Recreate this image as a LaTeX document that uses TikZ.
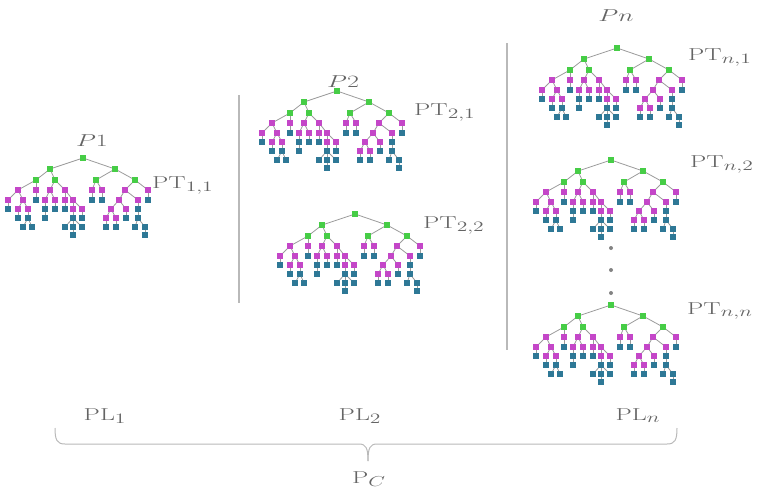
\documentclass[tikz,border=0pt]{standalone}
\usepackage{amsmath}
\usepackage{tikz}
\usepackage{xcolor}
\definecolor{TopGreen}{RGB}{70,205,70}
\definecolor{InnerMagenta}{RGB}{196,70,200}
\definecolor{LeafTeal}{RGB}{46,120,150}
\definecolor{EdgeGray}{RGB}{155,155,155}
\definecolor{LabelGray}{RGB}{100,100,100}
\definecolor{RuleGray}{RGB}{185,185,185}

\newcommand{\wlbl}[1]{\scalebox{1.5}[1]{#1}}

\tikzset{
  pnode/.style={rectangle, inner sep=0pt, minimum size=5.4pt},
  tedge/.style={draw=EdgeGray, line width=0.8pt},
  lbl/.style={text=LabelGray, inner sep=0pt, font=\fontsize{19}{22}\selectfont},
  ptree/.pic={
    \foreach \n/\x/\y/\c in {r/0/0/TopGreen, a/-33/11/TopGreen, b/32/11/TopGreen,
        aa/-47/22/TopGreen, ab/-28/22/TopGreen, ba/13/22/TopGreen, bb/52/22/TopGreen,
        c1/-65/32/InnerMagenta, c2/-47/32/InnerMagenta, c3/-33/32/InnerMagenta, c4/-18/32/InnerMagenta,
        c5/9/32/InnerMagenta, c6/19/32/InnerMagenta, c7/42/32/InnerMagenta, c8/65/32/InnerMagenta,
        d1/-75/42/InnerMagenta, d2/-60/42/InnerMagenta, d3/-47/42/LeafTeal, d4/-38/42/InnerMagenta,
        d5/-28/42/InnerMagenta, d6/-18/42/InnerMagenta, d7/-10/42/InnerMagenta, d8/9/42/LeafTeal,
        d9/19/42/LeafTeal, d10/36/42/InnerMagenta, d11/55/42/InnerMagenta, d12/65/42/LeafTeal,
        e1/-75/51/LeafTeal, e2/-65/51/InnerMagenta, e3/-55/51/InnerMagenta, e4/-38/51/LeafTeal,
        e5/-28/51/LeafTeal, e6/-18/51/LeafTeal, e7/-10/51/InnerMagenta, e8/-1/51/InnerMagenta,
        e9/28/51/InnerMagenta, e10/43/51/InnerMagenta, e11/55/51/LeafTeal,
        f1/-65/60/LeafTeal, f2/-55/60/LeafTeal, f3/-38/60/LeafTeal, f4/-10/60/LeafTeal,
        f5/-1/60/LeafTeal, f6/23/60/InnerMagenta, f7/33/60/InnerMagenta, f8/43/60/LeafTeal, f9/55/60/LeafTeal,
        g1/-60/69/LeafTeal, g2/-51/69/LeafTeal, g3/-18/69/LeafTeal, g4/-10/69/LeafTeal, g5/-1/69/LeafTeal,
        g6/23/69/LeafTeal, g7/33/69/LeafTeal, g8/52/69/LeafTeal, g9/62/69/LeafTeal,
        h1/-10/77/LeafTeal, h2/62/77/LeafTeal}
      \node[pnode, fill=\c] (-\n) at (\x,\y) {};
    \foreach \p/\q in {r/a, r/b, a/aa, a/ab, b/ba, b/bb, aa/c1, aa/c2, ab/c3, ab/c4, ba/c5, ba/c6,
        bb/c7, bb/c8, c1/d1, c1/d2, c2/d3, c3/d4, c3/d5, c4/d6, c4/d7, c5/d8, c6/d9, c7/d10, c7/d11,
        c8/d12, d1/e1, d2/e2, d2/e3, d4/e4, d5/e5, d6/e6, d7/e7, d7/e8, d10/e9, d10/e10, d11/e11,
        e2/f1, e3/f2, e4/f3, e7/f4, e8/f5, e9/f6, e9/f7, e10/f8, e11/f9, f2/g1, f2/g2, f4/g3, f4/g4,
        f4/g5, f6/g6, f7/g7, f9/g8, f9/g9, g4/h1, g9/h2}
      \draw[tedge] (-\p) -- (-\q);
  }
}

\begin{document}
\begin{tikzpicture}[x=1pt, y=-1pt]
  \useasboundingbox (0,0) rectangle (763,493);

  % party trees
  \pic (t11) at (83,158) {ptree};
  \pic (t21) at (337,91) {ptree};
  \pic (t22) at (355,214) {ptree};
  \pic (tn1) at (617,48) {ptree};
  \pic (tn2) at (611,160) {ptree};
  \pic (tnn) at (611,305) {ptree};

  % separators
  \draw[RuleGray, line width=1.1pt] (239,95) -- (239,303);
  \draw[RuleGray, line width=1.1pt] (507,43) -- (507,350);

  % vertical dots
  \foreach \yy in {248,270,293}
    \fill[LabelGray!80] (611,\yy) circle (2);

  % party names
  \node[lbl, anchor=base] (p1) at (92,146) {\wlbl{$P1$}};
  \node[lbl, anchor=base] (p2) at (343,87) {\wlbl{$P2$}};
  \node[lbl, anchor=base] (pn) at (616,21) {\wlbl{$Pn$}};

  % tree labels
  \node[lbl, anchor=base west] (pt11) at (152,188) {\wlbl{$\mathrm{PT}_{1,1}$}};
  \node[lbl, anchor=base west] (pt21) at (414,115) {\wlbl{$\mathrm{PT}_{2,1}$}};
  \node[lbl, anchor=base west] (pt22) at (423,228) {\wlbl{$\mathrm{PT}_{2,2}$}};
  \node[lbl, anchor=base west] (ptn1) at (688,60) {\wlbl{$\mathrm{PT}_{n,1}$}};
  \node[lbl, anchor=base west] (ptn2) at (690,167) {\wlbl{$\mathrm{PT}_{n,2}$}};
  \node[lbl, anchor=base west] (ptnn) at (687,314) {\wlbl{$\mathrm{PT}_{n,n}$}};

  % levels and brace
  \node[lbl, anchor=base] (pl1) at (105,420) {\wlbl{$\mathrm{PL}_1$}};
  \node[lbl, anchor=base] (pl2) at (360,420) {\wlbl{$\mathrm{PL}_2$}};
  \node[lbl, anchor=base] (pln) at (638,420) {\wlbl{$\mathrm{PL}_n$}};
  \draw[RuleGray, line width=1pt] (55,428) .. controls (55,440) and (57,444) .. (65,444)
    -- (359,444) .. controls (366,444) and (368,448) .. (368,461);
  \draw[RuleGray, line width=1pt] (677,428) .. controls (677,440) and (675,444) .. (667,444)
    -- (377,444) .. controls (370,444) and (368,448) .. (368,461);
  \node[lbl, anchor=base] (pc) at (369,483) {\wlbl{$\mathrm{P}_C$}};
\end{tikzpicture}
\end{document}
